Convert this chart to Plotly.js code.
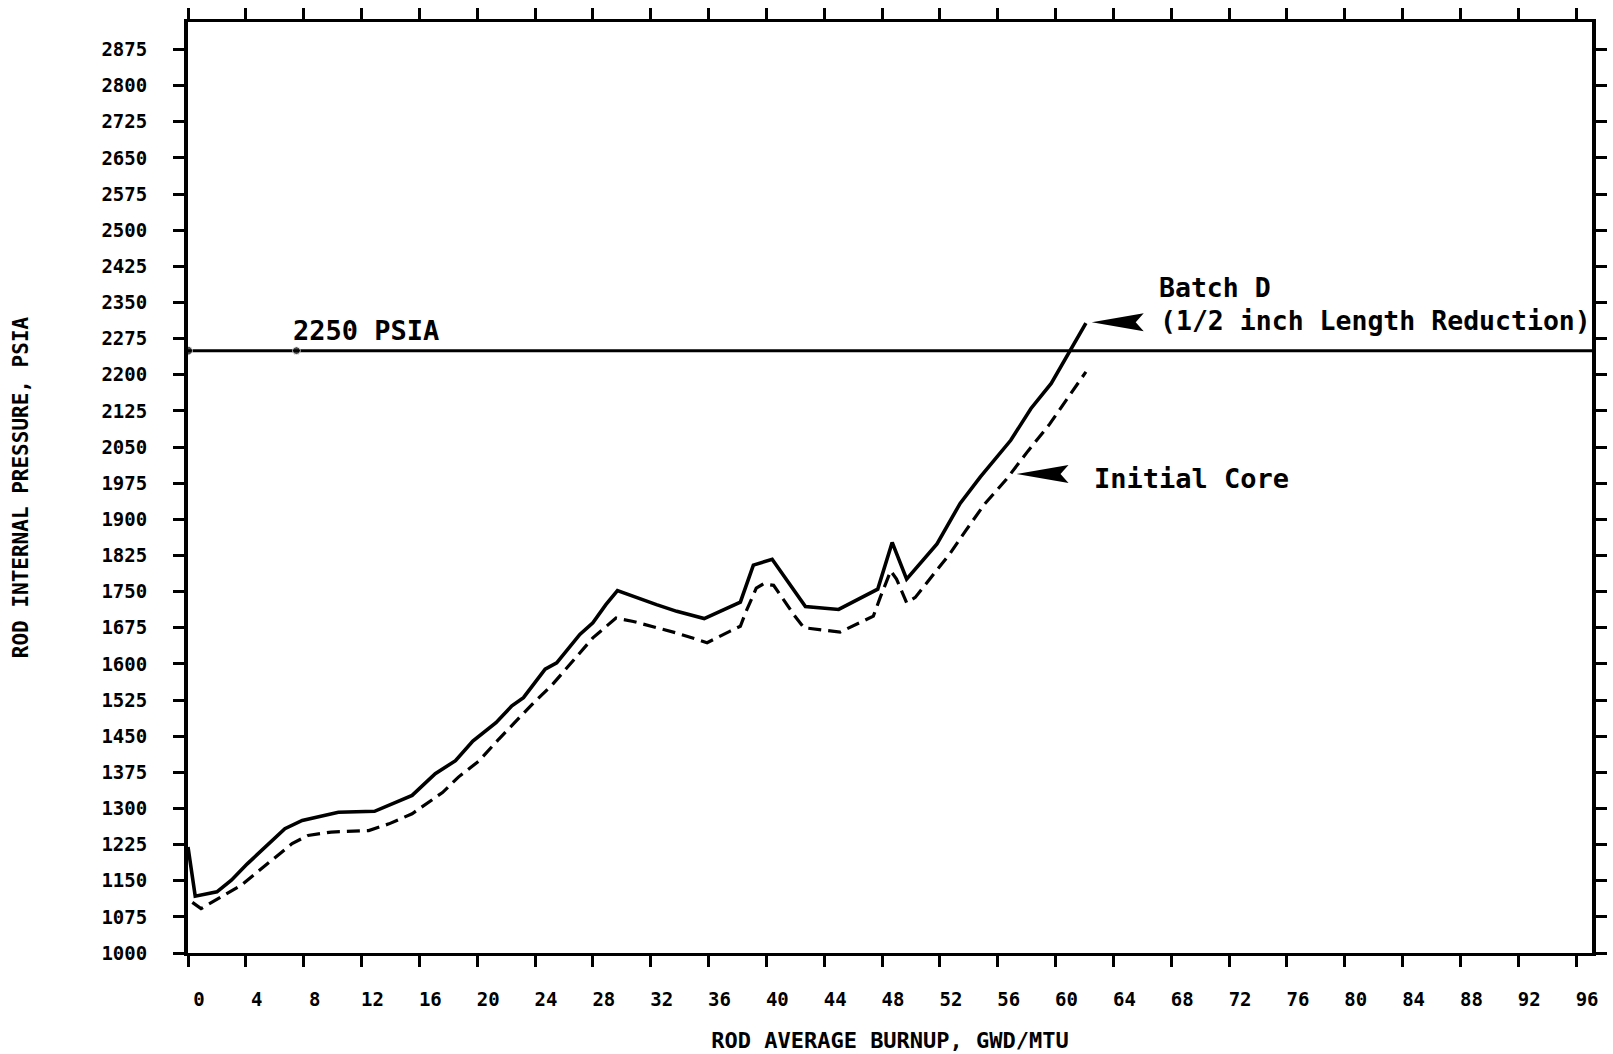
<!DOCTYPE html>
<html>
<head>
<meta charset="utf-8">
<script src="https://cdn.plot.ly/plotly-3.0.1.min.js"></script>
<style>
  html, body { margin: 0; padding: 0; background: #ffffff; }
  #chart { width: 1613px; height: 1054px; }
</style>
</head>
<body>
<div id="chart"></div>
<script>
// ---- Data ----
// Batch D (1/2 inch length reduction) - solid curve
const batchD_burnup = [0, 0.5, 2.0, 3.0, 4.1, 5.8, 6.7, 7.9, 10.4, 12.9, 15.5, 17.1, 18.5, 19.7, 21.3, 22.4, 23.2, 24.7, 25.5, 27.1, 28.0, 28.9, 29.7, 32.4, 33.8, 35.7, 38.2, 39.1, 40.4, 42.7, 45.0, 47.7, 48.7, 49.7, 51.8, 53.4, 54.8, 56.9, 58.3, 59.7, 60.9, 62.1];
const batchD_pressure = [1220, 1118, 1127, 1151, 1185, 1234, 1258, 1275, 1292, 1294, 1327, 1372, 1399, 1440, 1478, 1513, 1530, 1589, 1602, 1661, 1685, 1723, 1752, 1723, 1709, 1694, 1728, 1805, 1817, 1719, 1713, 1755, 1852, 1776, 1849, 1933, 1988, 2064, 2130, 2182, 2244, 2307];

// Initial Core - dashed curve
const initCore_burnup = [0.3, 0.9, 2.5, 3.7, 4.8, 6.2, 7.2, 8.3, 9.9, 12.5, 13.9, 15.5, 17.6, 18.7, 20.1, 21.5, 23.8, 25.2, 26.8, 28.0, 29.6, 30.8, 33.8, 35.9, 37.5, 38.2, 38.6, 39.3, 39.8, 40.5, 41.9, 42.6, 45.1, 47.4, 47.9, 48.6, 49.0, 49.7, 50.3, 51.4, 52.7, 53.8, 55.1, 56.6, 58.1, 59.6, 60.7, 62.1];
const initCore_pressure = [1105, 1092, 1120, 1141, 1168, 1203, 1227, 1244, 1251, 1254, 1268, 1289, 1333, 1365, 1398, 1444, 1516, 1557, 1613, 1654, 1695, 1688, 1664, 1644, 1668, 1678, 1709, 1757, 1766, 1763, 1702, 1675, 1666, 1699, 1740, 1793, 1776, 1727, 1738, 1779, 1829, 1877, 1932, 1983, 2042, 2098, 2146, 2206];

// Limit line
const limitPressure = 2250;
const limitBurnup = [0, 7.5, 97.1];

// Axis ticks
const xTickVals = [0, 4, 8, 12, 16, 20, 24, 28, 32, 36, 40, 44, 48, 52, 56, 60, 64, 68, 72, 76, 80, 84, 88, 92, 96];
const yTickVals = [1000, 1075, 1150, 1225, 1300, 1375, 1450, 1525, 1600, 1675, 1750, 1825, 1900, 1975, 2050, 2125, 2200, 2275, 2350, 2425, 2500, 2575, 2650, 2725, 2800, 2875];

// Annotation texts
const xTitle = "ROD AVERAGE BURNUP, GWD/MTU";
const yTitle = "ROD INTERNAL PRESSURE, PSIA";
const limitLabel = "2250 PSIA";
const batchLabel1 = "Batch D";
const batchLabel2 = "(1/2 inch Length Reduction)";
const coreLabel = "Initial Core";

const mono = "DejaVu Sans Mono, Liberation Mono, monospace";

const traces = [
  {
    x: limitBurnup,
    y: limitBurnup.map(() => limitPressure),
    mode: "lines+markers",
    line: { color: "#000", width: 3 },
    marker: { color: "#000", size: [9, 8, 0] },
    hoverinfo: "skip",
    showlegend: false
  },
  {
    x: batchD_burnup,
    y: batchD_pressure,
    mode: "lines",
    line: { color: "#000", width: 3.6 },
    name: "Batch D",
    showlegend: false
  },
  {
    x: initCore_burnup,
    y: initCore_pressure,
    mode: "lines",
    line: { color: "#000", width: 3.2, dash: "13px,7px" },
    name: "Initial Core",
    showlegend: false
  }
];

const arrowPath = "M0,0 L52,9 L44,0 L52,-9 Z";

const layout = {
  width: 1613,
  height: 1054,
  paper_bgcolor: "#ffffff",
  plot_bgcolor: "#ffffff",
  margin: { l: 188, r: 21, t: 22, b: 101 },
  showlegend: false,
  font: { family: mono, color: "#000" },
  xaxis: {
    range: [0, 97.1],
    tickvals: xTickVals,
    ticktext: xTickVals.map(String),
    ticks: "outside",
    ticklen: 11,
    tickwidth: 3,
    tickcolor: "#000",
    showline: true,
    linewidth: 3,
    linecolor: "#000",
    mirror: "ticks",
    showgrid: false,
    zeroline: false,
    ticklabelshift: 11,
    ticklabelstandoff: 16,
    tickfont: { family: mono, size: 19, weight: "bold", color: "#000" },
    title: { text: xTitle, font: { family: mono, size: 22, weight: "bold", color: "#000" }, standoff: 24 },
    automargin: false
  },
  yaxis: {
    range: [1000, 2932],
    tickvals: yTickVals,
    ticktext: yTickVals.map(String),
    ticks: "outside",
    ticklen: 11,
    tickwidth: 3,
    tickcolor: "#000",
    showline: true,
    linewidth: 4,
    linecolor: "#000",
    mirror: "ticks",
    showgrid: false,
    zeroline: false,
    ticklabelstandoff: 22,
    tickfont: { family: mono, size: 19, weight: "bold", color: "#000" },
    title: { text: yTitle, font: { family: mono, size: 21, weight: "bold", color: "#000" }, standoff: 68 },
    automargin: false
  },
  annotations: [
    { x: 7.1, y: 2291, xref: "x", yref: "y", text: limitLabel, showarrow: false, xanchor: "left", yanchor: "middle",
      font: { family: mono, size: 27, weight: "bold", color: "#000" } },
    { x: 67.0, y: 2382, xref: "x", yref: "y", text: batchLabel1, showarrow: false, xanchor: "left", yanchor: "middle",
      font: { family: mono, size: 26.5, weight: "bold", color: "#000" } },
    { x: 67.1, y: 2313, xref: "x", yref: "y", text: batchLabel2, showarrow: false, xanchor: "left", yanchor: "middle",
      font: { family: mono, size: 26.5, weight: "bold", color: "#000" } },
    { x: 62.5, y: 1984, xref: "x", yref: "y", text: coreLabel, showarrow: false, xanchor: "left", yanchor: "middle",
      font: { family: mono, size: 27, weight: "bold", color: "#000" } }
  ],
  shapes: [
    { type: "path", xref: "x", yref: "y", xsizemode: "pixel", ysizemode: "pixel",
      xanchor: 62.5, yanchor: 2309, path: arrowPath, fillcolor: "#000", line: { width: 0 } },
    { type: "path", xref: "x", yref: "y", xsizemode: "pixel", ysizemode: "pixel",
      xanchor: 57.3, yanchor: 1994, path: arrowPath, fillcolor: "#000", line: { width: 0 } }
  ]
};

Plotly.newPlot("chart", traces, layout, { displayModeBar: false, staticPlot: true });
</script>
</body>
</html>
